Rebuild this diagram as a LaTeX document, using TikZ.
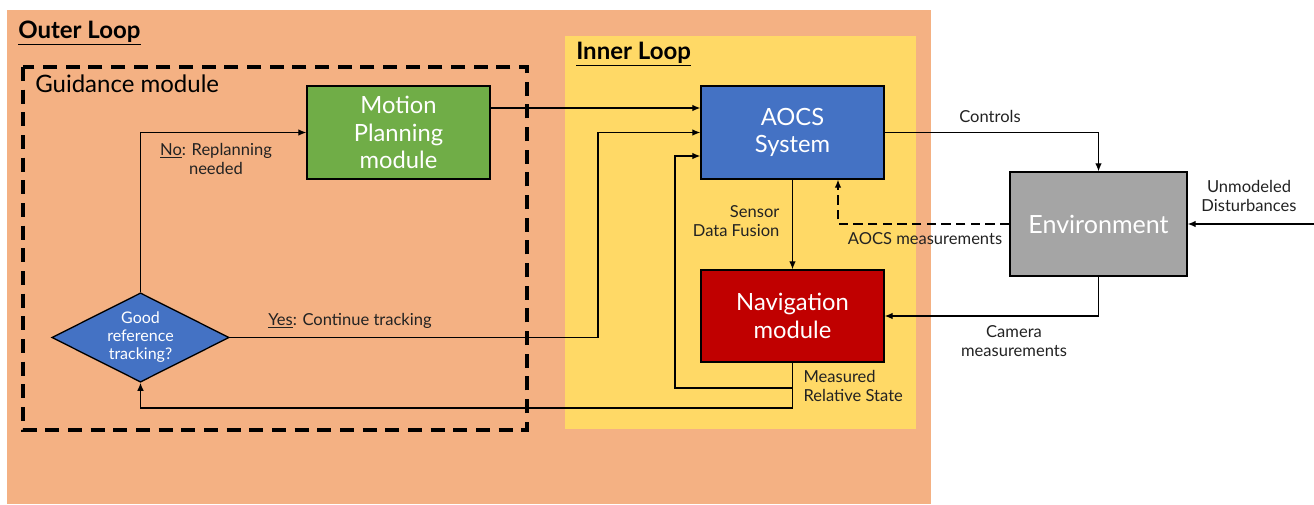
\documentclass[tikz,border=0pt]{standalone}
\usepackage{fontspec}
\setmainfont{Lato}
\usetikzlibrary{arrows.meta,shapes.geometric}
\definecolor{outerloop}{HTML}{F4B183}
\definecolor{innerloop}{HTML}{FFD966}
\definecolor{mpgreen}{HTML}{70AD47}
\definecolor{aocsblue}{HTML}{4472C4}
\definecolor{navred}{HTML}{C00000}
\definecolor{envgray}{HTML}{A5A5A5}
\definecolor{ink}{HTML}{222222}

\begin{document}
\begin{tikzpicture}[x=0.75pt,y=-0.75pt,>={Latex[length=6pt,width=5pt]},
  block/.style={draw=black,line width=1.1pt,text=white,align=center,
    minimum width=137.25pt,minimum height=69.75pt,inner sep=2pt,
    font=\fontsize{17.8}{20.5}\selectfont},
  check/.style={diamond,draw=black,line width=1pt,fill=aocsblue,text=white,
    align=center,aspect=2,inner sep=0pt,minimum width=133pt,minimum height=67pt,
    font=\fontsize{12}{13.5}\selectfont},
  flow/.style={->,line width=0.9pt,draw=black},
  lab/.style={text=ink,align=center,inner sep=1pt,font=\fontsize{12.4}{14}\selectfont},
  loopname/.style={anchor=west,inner sep=0pt,font=\fontsize{18}{20}\selectfont\bfseries}]
\useasboundingbox (0,0) rectangle (1314,504);
% loop backgrounds
\fill[outerloop] (7,10) rectangle (931,504);
\fill[innerloop] (565,36) rectangle (916,429);
\draw[line width=3pt,dash pattern=on 10.5pt off 6.5pt] (23,67) rectangle (527,430);
\node[loopname] (outer) at (18,33) {\underline{Outer Loop}};
\node[loopname] (inner) at (576,54) {\underline{Inner Loop}};
\node[anchor=west,inner sep=0pt,font=\fontsize{18}{20}\selectfont] (guid) at (35,84) {Guidance module};

% blocks
\node[block,fill=mpgreen] (mp) at (398.5,132.5) {Motion\\Planning\\module};
\node[block,fill=aocsblue] (aocs) at (792.5,132.5) {AOCS\\System};
\node[block,fill=navred,minimum height=69pt] (nav) at (792.5,316) {Navigation\\module};
\node[block,fill=envgray,minimum width=132.75pt,minimum height=78pt,
  font=\fontsize{18.8}{21}\selectfont] (env) at (1098.5,224) {Environment};
\node[check] (chk) at (140.5,337.5) {Good\\reference\\tracking?};

% helper points
\coordinate (mpout) at (0,108);
\coordinate (yescol) at (598,0);
\coordinate (fbcorner) at (675,388);
\coordinate (fbin) at (0,156);
\coordinate (lowrow) at (0,408);
\coordinate (meascol) at (838,0);
\coordinate (distin) at (1314,224);

% connectors
\draw[flow] (mp.east |- mpout) -- (aocs.west |- mpout);
\draw[flow] (chk.north) |- (mp.west);
\draw[flow] (chk.east) -- (chk.east -| yescol) |- (aocs.west);
\draw[flow] (nav.south) |- (fbcorner) |- (aocs.west |- fbin);
\draw[flow] (nav.south) |- (chk.south |- lowrow) -- (chk.south);
\draw[flow] (aocs.south) -- (nav.north);
\draw[flow] (aocs.east) -| (env.north);
\draw[flow,dash pattern=on 7pt off 4pt] (env.west) -| (aocs.south -| meascol);
\draw[flow] (env.south) |- (nav.east);
\draw[flow] (distin) -- (env.east);

% labels
\node[lab] (nolab) at (216,159) {\underline{No}: Replanning\\needed};
\node[lab] (yeslab) at (350,321) {\underline{Yes}: Continue tracking};
\node[lab,align=right,anchor=east] (fuslab) at (781,221) {Sensor\\Data Fusion};
\node[lab] (ctrllab) at (990,116) {Controls};
\node[lab] (measlab) at (925,239) {AOCS measurements};
\node[lab] (distlab) at (1249,196) {Unmodeled\\Disturbances};
\node[lab] (camlab) at (1014,341) {Camera\\measurements};
\node[lab,align=left,anchor=west] (statelab) at (802,386) {Measured\\Relative State};
\end{tikzpicture}
\end{document}
